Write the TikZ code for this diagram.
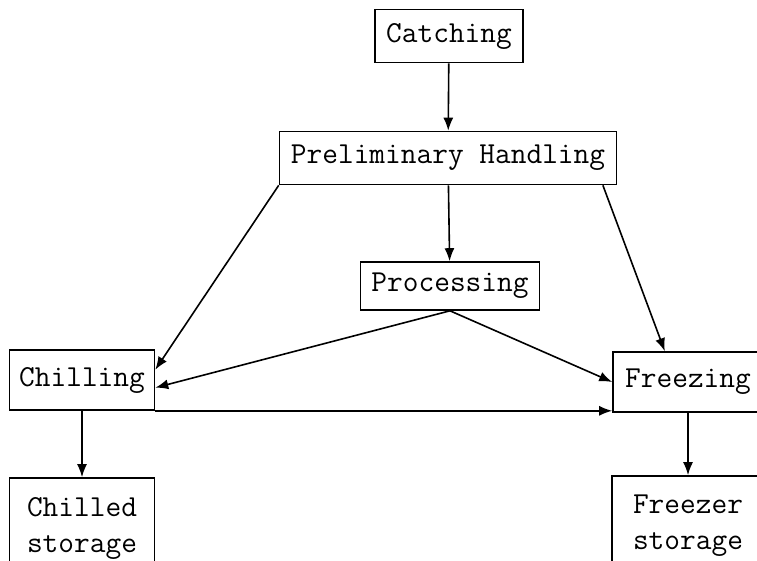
\documentclass[tikz,border=0pt]{standalone}
\usetikzlibrary{arrows.meta}
\tikzset{
  stage/.style={draw, line width=1.6pt, inner sep=0pt,
    font=\ttfamily\fontsize{30.5}{36}\selectfont},
  flow/.style={-{Latex[length=13pt,width=10pt]}, line width=1.6pt}
}
\begin{document}
\begin{tikzpicture}[x=1pt,y=-1pt]
\useasboundingbox (0,0) rectangle (757,560);
\clip (0,0) rectangle (757,560);
\node[stage, minimum width=148pt, minimum height=53pt] (catch) at (449,36)
    {Catching};
\node[stage, minimum width=337pt, minimum height=53pt] (prelim) at (448,158)
    {Preliminary Handling};
\node[stage, minimum width=179pt, minimum height=48pt] (proc) at (450,286)
    {Processing};
\node[stage, minimum width=145pt, minimum height=60pt] (chill) at (82,380)
    {Chilling};
\node[stage, minimum width=150pt, minimum height=60pt] (freeze) at (688,382)
    {Freezing};
\node[stage, align=left, minimum width=145pt, minimum height=100pt] (chillst) at (82,528)
    {Chilled\\storage};
\node[stage, align=left, minimum width=152pt, minimum height=100pt] (freezest) at (688,526)
    {Freezer\\storage};

\draw[flow] (catch)  -- (prelim);
\draw[flow] (prelim) -- (proc);
\draw[flow] (prelim.south west) -- (chill.8);
\draw[flow] (prelim.-10) -- (freeze.127);
\draw[flow] (proc.south) -- (chill.-6);
\draw[flow] (proc.south) -- (freeze.west);
\draw[flow] (chill.south east) -- (chill.south east -| freeze.west);
\draw[flow] (chill)  -- (chillst);
\draw[flow] (freeze) -- (freezest);
\end{tikzpicture}
\end{document}
